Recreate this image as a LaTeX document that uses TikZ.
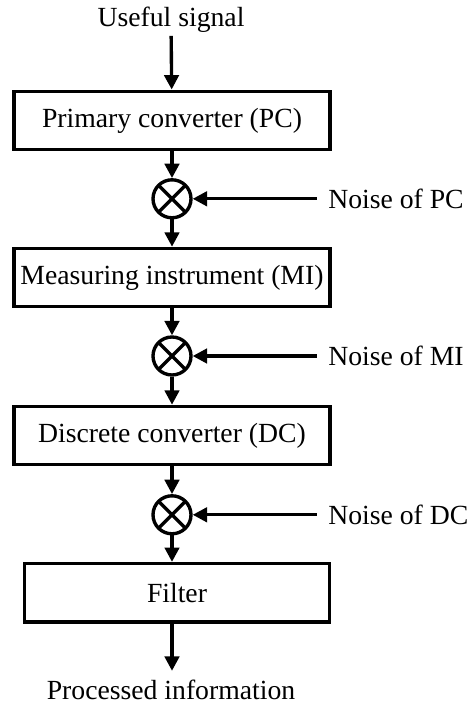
\documentclass[tikz,border=0pt]{standalone}
\usepackage{fontspec}
\setmainfont{Liberation Serif}
\usetikzlibrary{arrows.meta,positioning}

\begin{document}
\begin{tikzpicture}[
  font=\fontsize{19.7}{23}\selectfont,
  block/.style={draw, line width=2.4pt, minimum width=7.9cm, minimum height=1.46cm, inner sep=0pt},
  mixer/.style={circle, draw, line width=2.4pt, minimum size=0.95cm, inner sep=0pt,
    path picture={\draw[line width=2.4pt]
      (path picture bounding box.north west) -- (path picture bounding box.south east)
      (path picture bounding box.north east) -- (path picture bounding box.south west);}},
  sig/.style={-{Triangle[length=0.36cm,width=0.36cm]}, line width=2.4pt},
  noise/.style={anchor=west, inner xsep=0.28cm, inner ysep=1pt}
]
  \useasboundingbox (0,0) rectangle (11.675,17.6);

  % Input
  \node[inner sep=2pt] (in) at (4.275,17.1) {Useful signal};

  % Processing chain
  \node[block] (pc) at (4.3,14.59) {Primary converter (PC)};
  \node[mixer] (m1) at (4.3,12.63) {};
  \node[block] (mi) at (4.3,10.66) {Measuring instrument (MI)};
  \node[mixer] (m2) at (4.3,8.7) {};
  \node[block] (dc) at (4.3,6.71) {Discrete converter (DC)};
  \node[mixer] (m3) at (4.3,4.73) {};
  \node[block, minimum width=7.64cm] (flt) at (4.425,2.78) {Filter};

  % Output
  \coordinate (outtip) at (4.3,0.83);
  \node[inner sep=1pt] (out) at (4.275,0.36) {Processed information};

  % Noise sources
  \node[noise] (n1) at (7.92,12.63) {Noise of PC};
  \node[noise] (n2) at (7.92,8.7) {Noise of MI};
  \node[noise] (n3) at (7.92,4.73) {Noise of DC};

  % Signal path
  \draw[sig] (in) -- (pc);
  \draw[sig] (pc) -- (m1);
  \draw[sig] (m1) -- (mi);
  \draw[sig] (mi) -- (m2);
  \draw[sig] (m2) -- (dc);
  \draw[sig] (dc) -- (m3);
  \draw[sig] (m3) -- (m3 |- flt.north);
  \draw[sig] (m3 |- flt.south) -- (outtip);

  % Noise inputs
  \draw[sig] (n1) -- (m1);
  \draw[sig] (n2) -- (m2);
  \draw[sig] (n3) -- (m3);
\end{tikzpicture}
\end{document}
